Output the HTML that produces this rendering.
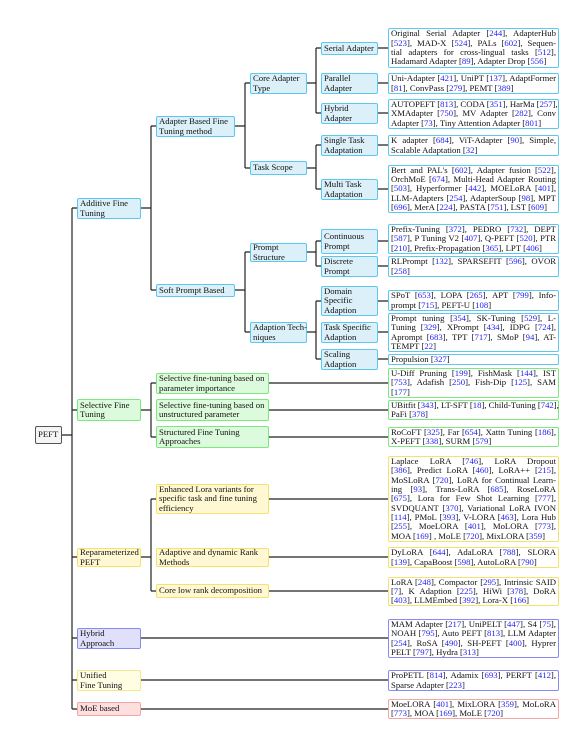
<!DOCTYPE html>
<html><head><meta charset="utf-8"><style>
body{margin:0;background:#fff;width:582px;height:729px;position:relative;overflow:hidden;font-family:"Liberation Serif",serif;font-size:8.7px;color:#111;}
.b{position:absolute;box-sizing:border-box;border:1px solid;border-radius:2px;padding:0 2px;line-height:9.3px;display:flex;flex-direction:column;justify-content:center;white-space:nowrap;}
.bl{background:#dbf0f9;border-color:#5cc8ef;}
.gr{background:#dcfadc;border-color:#7de87d;}
.ye{background:#fff8d2;border-color:#f5e26a;}
.pu{background:#e0e0fa;border-color:#8a8af0;}
.un{background:#fffde4;border-color:#f3e98e;}
.re{background:#ffdede;border-color:#f4a6a6;}
.w{background:#fff;}
.j{text-align:justify;text-align-last:justify;white-space:nowrap;}
.l{white-space:nowrap;}
c{color:#2222ee;}
svg{position:absolute;left:0;top:0;}
</style></head><body>
<svg width="582" height="729" stroke="#222" stroke-width="1.2" fill="none">
<path d="M62 435H72M72 208V709M72 208H77M72 410H77M72 557H77M72 638H77M72 680H77M72 709H77"/>
<path d="M141 208H151M151 126V290M151 126H156M151 290H156"/>
<path d="M141 410H151M151 383V437M151 383H156M151 437H156"/>
<path d="M141 557H151M151 499V591M151 499H156M151 591H156"/>
<path d="M141 638H388M141 680H388M141 709H388"/>
<path d="M235 126H245M245 83V168M245 83H250M245 168H250"/>
<path d="M235 290H245M245 252V332M245 252H250M245 332H250"/>
<path d="M307 83H316M316 48V113M316 48H321M316 113H321"/>
<path d="M307 168H316M316 145V189M316 145H321M316 189H321"/>
<path d="M307 252H316M316 241V266M316 241H321M316 266H321"/>
<path d="M307 332H316M316 301V359M316 301H321M316 359H321"/>
<path d="M378 48H388M378 83H388M378 113H388M378 145H388M378 189H388M378 241H388M378 266H388M378 301H388M378 332H388M378 359H388"/>
<path d="M269 383H388M269 410H388M269 437H388M269 499H388M269 557H388M269 591H388"/>
</svg>

<div class="b" style="left:35px;top:426px;width:27px;height:18px;background:#f5f5f5;border-color:#555;">PEFT</div>

<div class="b bl" style="left:77px;top:198px;width:64px;height:21px">Additive Fine<br>Tuning</div>
<div class="b gr" style="left:77px;top:399px;width:64px;height:22px">Selective Fine<br>Tuning</div>
<div class="b ye" style="left:77px;top:548px;width:64px;height:19px">Reparameterized<br>PEFT</div>
<div class="b pu" style="left:77px;top:628px;width:64px;height:21px">Hybrid<br>Approach</div>
<div class="b un" style="left:77px;top:670px;width:64px;height:21px">Unified<br>Fine Tuning</div>
<div class="b re" style="left:77px;top:702px;width:64px;height:14px">MoE based</div>

<div class="b bl" style="left:156px;top:116px;width:79px;height:21px">Adapter Based Fine<br>Tuning method</div>
<div class="b bl" style="left:156px;top:284px;width:79px;height:13px">Soft Prompt Based</div>
<div class="b gr" style="left:156px;top:373px;width:113px;height:21px">Selective fine-tuning based on<br>parameter importance</div>
<div class="b gr" style="left:156px;top:399px;width:113px;height:22px">Selective fine-tuning based on<br>unstructured parameter</div>
<div class="b gr" style="left:156px;top:426px;width:113px;height:22px">Structured Fine Tuning<br>Approaches</div>
<div class="b ye" style="left:156px;top:484px;width:113px;height:30px">Enhanced Lora variants for<br>specific task and fine tuning<br>efficiency</div>
<div class="b ye" style="left:156px;top:548px;width:113px;height:19px">Adaptive and dynamic Rank<br>Methods</div>
<div class="b ye" style="left:156px;top:584px;width:113px;height:14px">Core low rank decomposition</div>

<div class="b bl" style="left:250px;top:73px;width:57px;height:21px">Core Adapter<br>Type</div>
<div class="b bl" style="left:250px;top:161px;width:57px;height:14px">Task Scope</div>
<div class="b bl" style="left:250px;top:243px;width:57px;height:19px">Prompt<br>Structure</div>
<div class="b bl" style="left:250px;top:322px;width:57px;height:21px">Adaption Tech-<br>niques</div>

<div class="b bl" style="left:321px;top:42px;width:57px;height:13px">Serial Adapter</div>
<div class="b bl" style="left:321px;top:73px;width:57px;height:21px">Parallel<br>Adapter</div>
<div class="b bl" style="left:321px;top:103px;width:57px;height:21px">Hybrid<br>Adapter</div>
<div class="b bl" style="left:321px;top:135px;width:57px;height:21px">Single Task<br>Adaptation</div>
<div class="b bl" style="left:321px;top:179px;width:57px;height:21px">Multi Task<br>Adaptation</div>
<div class="b bl" style="left:321px;top:229px;width:57px;height:25px">Continuous<br>Prompt</div>
<div class="b bl" style="left:321px;top:256px;width:57px;height:21px">Discrete<br>Prompt</div>
<div class="b bl" style="left:321px;top:286px;width:57px;height:30px">Domain<br>Specific<br>Adaption</div>
<div class="b bl" style="left:321px;top:322px;width:57px;height:21px">Task Specific<br>Adaption</div>
<div class="b bl" style="left:321px;top:349px;width:57px;height:21px">Scaling<br>Adaption</div>

<div class="b bl w" style="left:388px;top:28px;width:171px;height:40px">
<div class="j">Original Serial Adapter [<c>244</c>], AdapterHub</div>
<div class="j">[<c>523</c>], MAD-X [<c>524</c>], PALs [<c>602</c>], Sequen-</div>
<div class="j">tial adapters for cross-lingual tasks [<c>512</c>],</div>
<div class="l">Hadamard Adapter [<c>89</c>], Adapter Drop [<c>556</c>]</div></div>
<div class="b bl w" style="left:388px;top:73px;width:171px;height:21px">
<div class="j">Uni-Adapter [<c>421</c>], UniPT [<c>137</c>], AdaptFormer</div>
<div class="l">[<c>81</c>], ConvPass [<c>279</c>], PEMT [<c>389</c>]</div></div>
<div class="b bl w" style="left:388px;top:99px;width:171px;height:30px">
<div class="j">AUTOPEFT [<c>813</c>], CODA [<c>351</c>], HarMa [<c>257</c>],</div>
<div class="j">XMAdapter [<c>750</c>], MV Adapter [<c>282</c>], Conv</div>
<div class="l">Adapter [<c>73</c>], Tiny Attention Adapter [<c>801</c>]</div></div>
<div class="b bl w" style="left:388px;top:135px;width:171px;height:21px">
<div class="j">K adapter [<c>684</c>], ViT-Adapter [<c>90</c>], Simple,</div>
<div class="l">Scalable Adaptation [<c>32</c>]</div></div>
<div class="b bl w" style="left:388px;top:165px;width:171px;height:48px">
<div class="j">Bert and PAL's [<c>602</c>], Adapter fusion [<c>522</c>],</div>
<div class="j">OrchMoE [<c>674</c>], Multi-Head Adapter Routing</div>
<div class="j">[<c>503</c>], Hyperformer [<c>442</c>], MOELoRA [<c>401</c>],</div>
<div class="j">LLM-Adapters [<c>254</c>], AdapterSoup [<c>98</c>], MPT</div>
<div class="l">[<c>696</c>], MerA [<c>224</c>], PASTA [<c>751</c>], LST [<c>609</c>]</div></div>
<div class="b bl w" style="left:388px;top:224px;width:171px;height:30px">
<div class="j">Prefix-Tuning [<c>372</c>], PEDRO [<c>732</c>], DEPT</div>
<div class="j">[<c>587</c>], P Tuning V2 [<c>407</c>], Q-PEFT [<c>520</c>], PTR</div>
<div class="l">[<c>210</c>], Prefix-Propagation [<c>365</c>], LPT [<c>406</c>]</div></div>
<div class="b bl w" style="left:388px;top:256px;width:171px;height:21px">
<div class="j">RLPrompt [<c>132</c>], SPARSEFIT [<c>596</c>], OVOR</div>
<div class="l">[<c>258</c>]</div></div>
<div class="b bl w" style="left:388px;top:290px;width:171px;height:21px">
<div class="j">SPoT [<c>653</c>], LOPA [<c>265</c>], APT [<c>799</c>], Info-</div>
<div class="l">prompt [<c>715</c>], PEFT-U [<c>108</c>]</div></div>
<div class="b bl w" style="left:388px;top:313px;width:171px;height:39px">
<div class="j">Prompt tuning [<c>354</c>], SK-Tuning [<c>529</c>], L-</div>
<div class="j">Tuning [<c>329</c>], XPrompt [<c>434</c>], IDPG [<c>724</c>],</div>
<div class="j">Aprompt [<c>683</c>], TPT [<c>717</c>], SMoP [<c>94</c>], AT-</div>
<div class="l">TEMPT [<c>22</c>]</div></div>
<div class="b bl w" style="left:388px;top:354px;width:171px;height:11px">
<div class="l">Propulsion [<c>327</c>]</div></div>

<div class="b gr w" style="left:388px;top:368px;width:171px;height:30px">
<div class="j">U-Diff Pruning [<c>199</c>], FishMask [<c>144</c>], IST</div>
<div class="j">[<c>753</c>], Adafish [<c>250</c>], Fish-Dip [<c>125</c>], SAM</div>
<div class="l">[<c>177</c>]</div></div>
<div class="b gr w" style="left:388px;top:400px;width:171px;height:20px">
<div class="j">UBitfit [<c>343</c>], LT-SFT [<c>18</c>], Child-Tuning [<c>742</c>],</div>
<div class="l">PaFi [<c>378</c>]</div></div>
<div class="b gr w" style="left:388px;top:427px;width:171px;height:20px">
<div class="j">RoCoFT [<c>325</c>], Far [<c>654</c>], Xattn Tuning [<c>186</c>],</div>
<div class="l">X-PEFT [<c>338</c>], SURM [<c>579</c>]</div></div>

<div class="b ye w" style="left:388px;top:456px;width:171px;height:86px">
<div class="j">Laplace LoRA [<c>746</c>], LoRA Dropout</div>
<div class="j">[<c>386</c>], Predict LoRA [<c>460</c>], LoRA++ [<c>215</c>],</div>
<div class="j">MoSLoRA [<c>720</c>], LoRA for Continual Learn-</div>
<div class="j">ing [<c>93</c>], Trans-LoRA [<c>685</c>], RoseLoRA</div>
<div class="j">[<c>675</c>], Lora for Few Shot Learning [<c>777</c>],</div>
<div class="j">SVDQUANT [<c>370</c>], Variational LoRA IVON</div>
<div class="j">[<c>114</c>], PMoL [<c>393</c>], V-LORA [<c>463</c>], Lora Hub</div>
<div class="j">[<c>255</c>], MoeLORA [<c>401</c>], MoLORA [<c>773</c>],</div>
<div class="l">MOA [<c>169</c>] , MoLE [<c>720</c>], MixLORA [<c>359</c>]</div></div>
<div class="b ye w" style="left:388px;top:547px;width:171px;height:21px">
<div class="j">DyLoRA [<c>644</c>], AdaLoRA [<c>788</c>], SLORA</div>
<div class="l">[<c>139</c>], CapaBoost [<c>598</c>], AutoLoRA [<c>790</c>]</div></div>
<div class="b ye w" style="left:388px;top:577px;width:171px;height:29px">
<div class="j">LoRA [<c>248</c>], Compactor [<c>295</c>], Intrinsic SAID</div>
<div class="j">[<c>7</c>], K Adaption [<c>225</c>], HiWi [<c>378</c>], DoRA</div>
<div class="l">[<c>403</c>], LLMEmbed [<c>392</c>], Lora-X [<c>166</c>]</div></div>

<div class="b pu w" style="left:388px;top:619px;width:171px;height:39px">
<div class="j">MAM Adapter [<c>217</c>], UniPELT [<c>447</c>], S4 [<c>75</c>],</div>
<div class="j">NOAH [<c>795</c>], Auto PEFT [<c>813</c>], LLM Adapter</div>
<div class="j">[<c>254</c>], RoSA [<c>490</c>], SH-PEFT [<c>400</c>], Hyprer</div>
<div class="l">PELT [<c>797</c>], Hydra [<c>313</c>]</div></div>
<div class="b pu w" style="left:388px;top:670px;width:171px;height:21px">
<div class="j">ProPETL [<c>814</c>], Adamix [<c>693</c>], PERFT [<c>412</c>],</div>
<div class="l">Sparse Adapter [<c>223</c>]</div></div>
<div class="b re w" style="left:388px;top:699px;width:171px;height:20px">
<div class="j">MoeLORA [<c>401</c>], MixLORA [<c>359</c>], MoLoRA</div>
<div class="l">[<c>773</c>], MOA [<c>169</c>], MoLE [<c>720</c>]</div></div>
</body></html>
